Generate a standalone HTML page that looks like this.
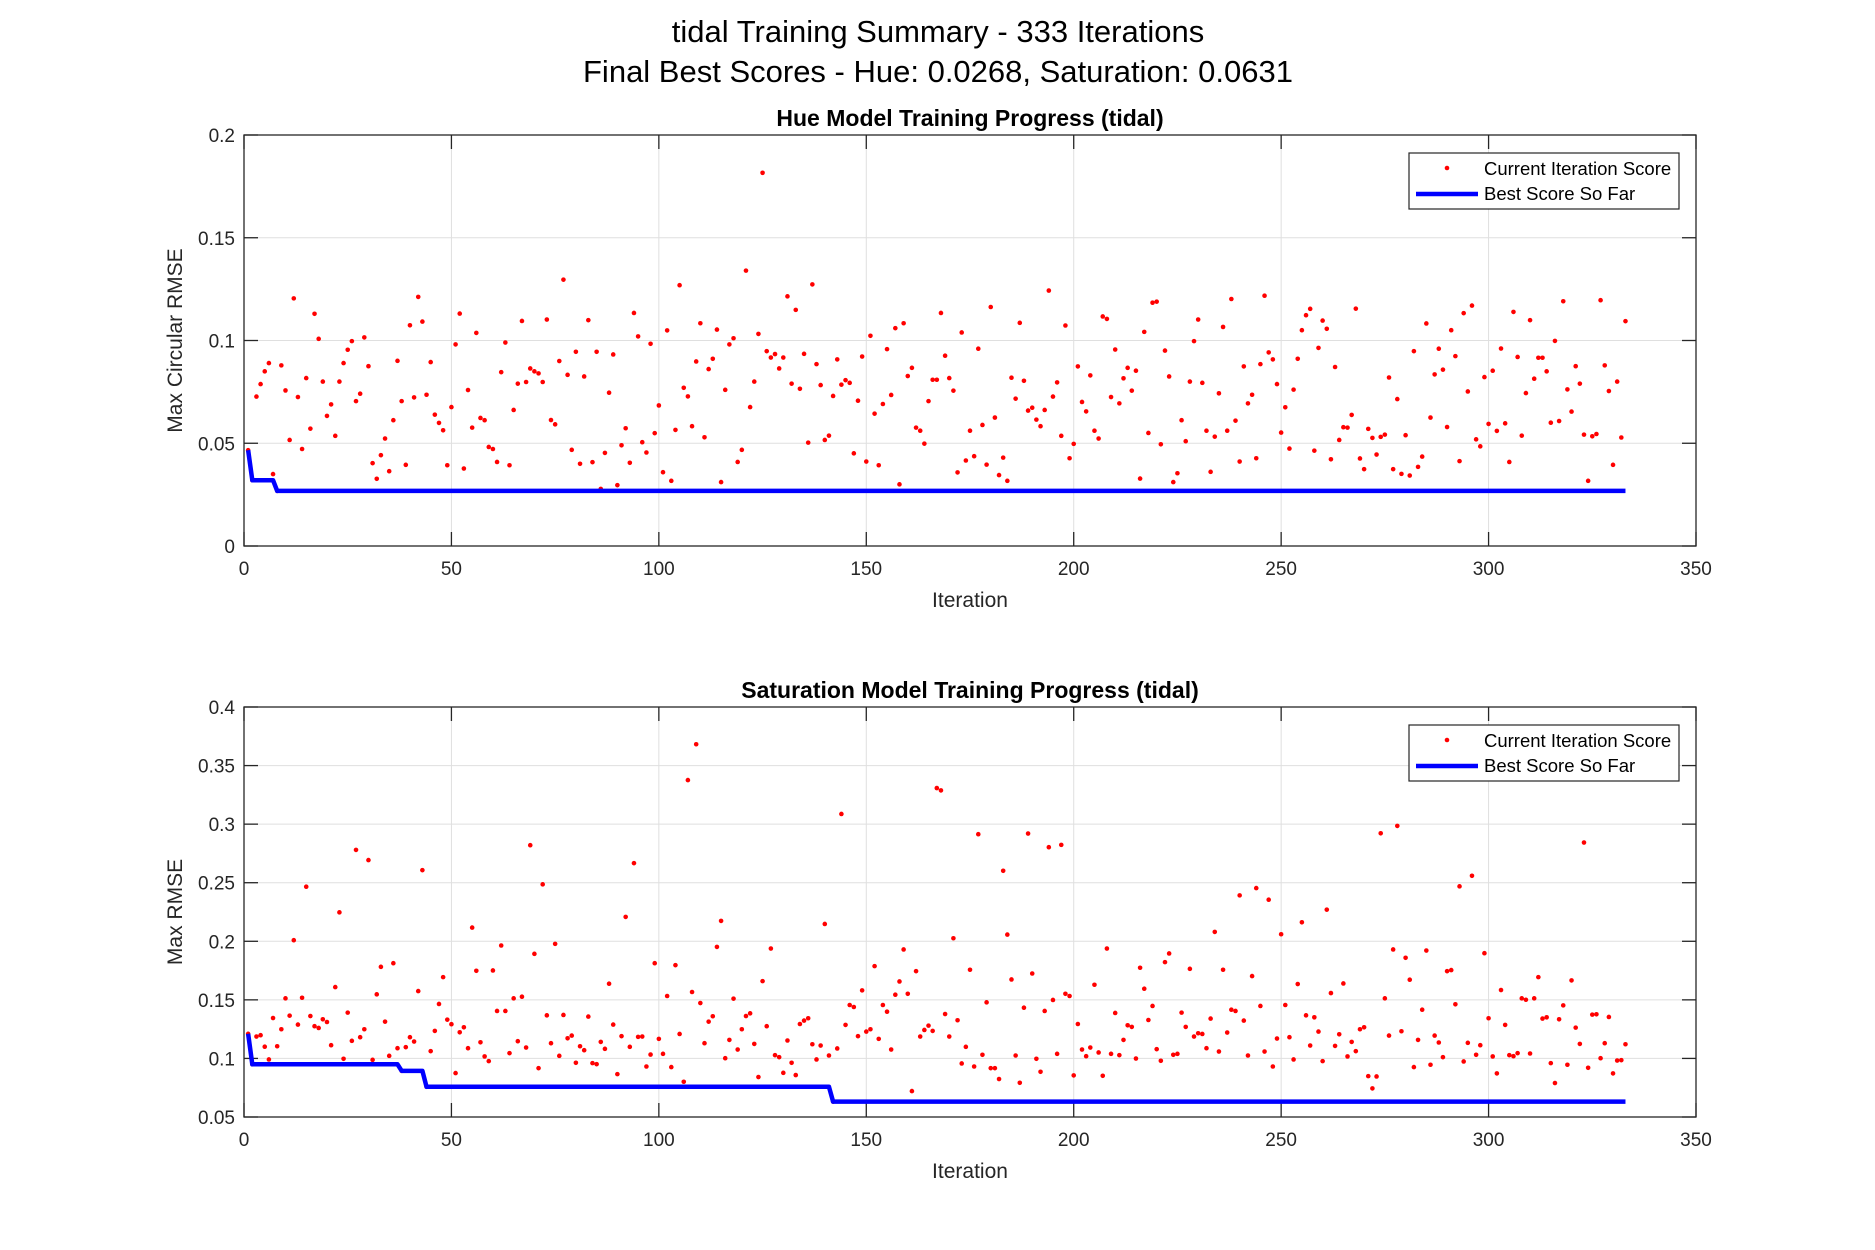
<!DOCTYPE html>
<html><head><meta charset="utf-8"><style>
html,body{margin:0;padding:0;background:#fff;}
svg{display:block;font-family:"Liberation Sans",Arial,sans-serif;}
</style></head><body>
<svg id="chart" width="1875" height="1250" viewBox="0 0 1875 1250" xmlns="http://www.w3.org/2000/svg">
<rect width="1875" height="1250" fill="#fff"/>
<text x="938" y="42" text-anchor="middle" font-size="31" fill="#000">tidal Training Summary - 333 Iterations</text>
<text x="938" y="82" text-anchor="middle" font-size="31" fill="#000">Final Best Scores - Hue: 0.0268, Saturation: 0.0631</text>
</svg>
<script>
const hueScores = [.0466,.032,.0727,.0788,.085,.089,.035,.0268,.0879,.0757,.0516,.1205,.0725,.0472,.0817,.0571,.113,.1008,.080,.0633,.0689,.0536,.080,.089,.0955,.0997,.0705,.0741,.1015,.0875,.0403,.0327,.0442,.0523,.0364,.0612,.0901,.0705,.0395,.1074,.0723,.1212,.1092,.0736,.0895,.0639,.0599,.0563,.0393,.0676,.0981,.1131,.0377,.0759,.0576,.1037,.0623,.0612,.0482,.0472,.0409,.0846,.099,.0393,.0662,.079,.1095,.0798,.0864,.085,.084,.0798,.1102,.0613,.0592,.090,.1296,.0833,.0468,.0945,.040,.0825,.1099,.0408,.0945,.0278,.0453,.0746,.0932,.0296,.049,.0573,.0405,.1134,.102,.0505,.0455,.0984,.0549,.0684,.0359,.1049,.0317,.0565,.1269,.077,.0728,.0583,.0898,.1084,.0529,.0861,.0911,.1053,.0311,.076,.0981,.1011,.0409,.0468,
.134,.0676,.080,.1032,.1816,.0948,.0917,.0934,.0864,.0917,.1215,.079,.1149,.0765,.0935,.0503,.1273,.0885,.0783,.0516,.0537,.073,.0908,.0785,.0807,.0794,.0451,.0707,.0922,.0411,.1023,.0644,.0393,.0691,.0958,.0735,.106,.030,.1084,.0827,.0867,.0576,.0561,.0498,.0705,.0809,.0809,.1134,.0926,.0817,.0756,.0358,.1039,.0416,.0561,.0437,.096,.0589,.0396,.1163,.0625,.0345,.043,.0317,.0819,.0717,.1086,.0804,.0659,.0673,.0615,.0583,.0662,.1243,.0727,.0796,.0536,.1073,.0427,.0497,.0874,.0701,.0655,.083,.0561,.0523,.1117,.1105,.0725,.0956,.0694,.0816,.0867,.0756,.0853,.0328,.1042,.055,.1184,.1189,.0495,.0951,.0825,.0311,.0354,.0612,.051,.080,.0997,.1102,.0794,.0561,.0361,.0532,.0743,.1066,.0561,.1202,.061,.0411,
.0874,.0694,.0736,.0427,.0885,.1218,.0942,.0908,.0788,.0552,.0675,.0474,.0761,.0911,.105,.1123,.1154,.0464,.0964,.1097,.1057,.0422,.0871,.0516,.0578,.0576,.0638,.1155,.0426,.0374,.057,.0526,.0445,.0531,.0542,.082,.0374,.0715,.0351,.0539,.0343,.0948,.0385,.0435,.1083,.0625,.0835,.096,.0858,.0579,.105,.0924,.0413,.1133,.0752,.117,.0519,.0485,.0822,.0594,.0853,.056,.0961,.0597,.0409,.1139,.092,.0537,.0744,.1099,.0814,.0916,.0916,.085,.06,.0998,.0608,.1191,.0762,.0654,.0875,.079,.0542,.0317,.0534,.0545,.1196,.0879,.0754,.0395,.080,.0528,.1094];
const satScores = [.121,.095,.1187,.1198,.110,.0991,.1345,.1104,.1249,.1513,.1365,.2009,.1289,.1518,.2466,.1362,.1275,.126,.1334,.1311,.1113,.1609,.2247,.0997,.1391,.115,.278,.1181,.1249,.2693,.0988,.1547,.1782,.1314,.1022,.1813,.1087,.0894,.1096,.1181,.1144,.1575,.2607,.0758,.1062,.1235,.1465,.1694,.1331,.1292,.0875,.1223,.1266,.1087,.2117,.1748,.1138,.1017,.0977,.1751,.1405,.1964,.1405,.1045,.1513,.1147,.1527,.1093,.282,.1893,.0917,.2486,.1368,.113,.1978,.1022,.1371,.1172,.1195,.0963,.1104,.107,.1357,.096,.0951,.1141,.1082,.1638,.1289,.0866,.119,.2208,.1099,.2667,.1184,.1187,.0931,.1033,.1813,.1167,.1039,.1533,.0926,.1796,.1209,.0801,.3376,.1567,.3682,.1473,.113,.1314,.136,.1952,.2174,.1002,.1158,.151,.1076,.1249,
.1362,.1385,.1124,.0841,.166,.1275,.1938,.1028,.1011,.0877,.1153,.0963,.0858,.1294,.1323,.1343,.1121,.0991,.111,.2148,.1025,.0631,.1085,.3087,.1286,.1456,.1439,.119,.1581,.1229,.1249,.1788,.1167,.1456,.1399,.1076,.1544,.1657,.193,.1552,.0721,.1745,.1187,.1243,.128,.1235,.3308,.3288,.1379,.1187,.2026,.1326,.0957,.1099,.1757,.0931,.2914,.1031,.1479,.0917,.0917,.0824,.2602,.2057,.1674,.1025,.0792,.1433,.292,.1725,.0997,.0886,.1405,.2803,.1499,.1039,.2823,.1552,.1533,.0855,.1294,.1076,.1019,.1093,.1629,.1051,.0852,.1938,.1039,.1388,.1028,.1158,.1283,.1269,.0999,.1774,.1595,.1328,.1448,.1079,.098,.1822,.1896,.1031,.1039,.1391,.1269,.1765,.1187,.1215,.1209,.1087,.134,.208,.1059,.1757,.1221,.1416,.1405,.2392,
.1323,.1025,.1703,.2454,.1448,.1059,.2355,.0931,.117,.206,.1456,.1181,.0991,.1635,.2162,.1368,.111,.1351,.1229,.0977,.227,.1558,.1107,.1206,.164,.1017,.1141,.1062,.1249,.1266,.0849,.0744,.0846,.2922,.1513,.1195,.193,.2985,.1232,.1859,.1672,.0926,.1158,.1416,.1921,.0946,.1195,.1136,.1011,.1745,.1754,.1462,.2469,.0974,.1133,.2559,.1031,.1113,.1898,.1343,.1017,.0872,.1584,.1286,.1028,.1019,.1045,.1513,.1501,.1042,.1513,.1694,.134,.1351,.096,.079,.1334,.1453,.0946,.1666,.1263,.1124,.2843,.092,.1374,.1377,.1002,.113,.1354,.0872,.0982,.0985,.1121];
const xTicks = [0,50,100,150,200,250,300,350];
const hueYTicks = [0,0.05,0.1,0.15,0.2];
const hueYTickLabels = ["0","0.05","0.1","0.15","0.2"];
const satYTicks = [0.05,0.1,0.15,0.2,0.25,0.3,0.35,0.4];
const satYTickLabels = ["0.05","0.1","0.15","0.2","0.25","0.3","0.35","0.4"];

const NS = "http://www.w3.org/2000/svg";
const svg = document.getElementById('chart');
function mk(tag, attrs, parent){
  const e = document.createElementNS(NS, tag);
  for (const k in attrs) e.setAttribute(k, attrs[k]);
  (parent||svg).appendChild(e);
  return e;
}
function bestSoFar(arr){
  const out=[]; let m=Infinity;
  for (const v of arr){ m=Math.min(m,v); out.push(m); }
  return out;
}
function drawPanel(cfg){
  const L=244, R=1696, T=cfg.top, B=cfg.bottom;
  const xS = v => L + (v-0)/(350-0)*(R-L);
  const yS = v => B - (v-cfg.ymin)/(cfg.ymax-cfg.ymin)*(B-T);
  const g = mk('g', {});
  
  
  mk('rect',{x:L,y:T,width:R-L,height:B-T,fill:'#fff'},g);
  xTicks.forEach(t=>{
    const l=mk('line',{x1:xS(t),x2:xS(t),y1:T,y2:B,stroke:'#dfdfdf','stroke-width':1},g);
    
    
  });
  cfg.yTicks.forEach(t=>{
    const l=mk('line',{x1:L,x2:R,y1:yS(t),y2:yS(t),stroke:'#dfdfdf','stroke-width':1},g);
    
    
  });
  xTicks.forEach(t=>{
    mk('line',{x1:xS(t),x2:xS(t),y1:B,y2:B-14,stroke:'#262626','stroke-width':1.3},g);
    mk('line',{x1:xS(t),x2:xS(t),y1:T,y2:T+14,stroke:'#262626','stroke-width':1.3},g);
    const tx=mk('text',{x:xS(t),y:B+29,'text-anchor':'middle','font-size':19,fill:'#262626'},g);
    tx.textContent=t;
    
    
  });
  cfg.yTicks.forEach((t,i)=>{
    mk('line',{x1:L,x2:L+14,y1:yS(t),y2:yS(t),stroke:'#262626','stroke-width':1.3},g);
    mk('line',{x1:R,x2:R-14,y1:yS(t),y2:yS(t),stroke:'#262626','stroke-width':1.3},g);
    const tx=mk('text',{x:235,y:yS(t)+7,'text-anchor':'end','font-size':19,fill:'#262626'},g);
    tx.textContent=cfg.yLabels[i];
    
    
  });
  cfg.data.forEach((v,i)=>{
    const c=mk('circle',{cx:xS(i+1),cy:yS(v),r:2.3,fill:'#ff0000'},g);
    
    
  });
  const best=bestSoFar(cfg.data);
  const p=mk('polyline',{points:best.map((v,i)=>xS(i+1)+','+yS(v)).join(' '),fill:'none',stroke:'#0000ff','stroke-width':4.5,'stroke-linejoin':'round'},g);
  
  
  mk('rect',{x:L,y:T,width:R-L,height:B-T,fill:'none',stroke:'#262626','stroke-width':1.3},g);
  const tt=mk('text',{x:(L+R)/2,y:T-9,'text-anchor':'middle','font-size':23,'font-weight':'bold',fill:'#000'},g);
  tt.textContent=cfg.title;
  
  
  const xl=mk('text',{x:(L+R)/2,y:B+61,'text-anchor':'middle','font-size':21,fill:'#262626'},g);
  xl.textContent='Iteration';
  
  
  const cy=(T+B)/2;
  const yl=mk('text',{x:182,y:cy,'text-anchor':'middle','font-size':21,fill:'#262626',transform:'rotate(-90 182 '+cy+')'},g);
  yl.textContent=cfg.yTitle;
  
  
  const lg=mk('g',{},g);
  
  
  const ly=T+18;
  mk('rect',{x:1409,y:ly,width:270,height:56,fill:'#fff',stroke:'#262626','stroke-width':1.2},lg);
  mk('circle',{cx:1447,cy:ly+15,r:2.3,fill:'#ff0000'},lg);
  const t1=mk('text',{x:1484,y:ly+22,'font-size':18.5,fill:'#000'},lg);
  t1.textContent='Current Iteration Score';
  
  
  mk('line',{x1:1416,x2:1478,y1:ly+41,y2:ly+41,stroke:'#0000ff','stroke-width':4.5},lg);
  const t2=mk('text',{x:1484,y:ly+47,'font-size':18.5,fill:'#000'},lg);
  t2.textContent='Best Score So Far';
  
  
}
drawPanel({name:'hue-panel',top:135,bottom:546,ymin:0,ymax:0.2,yTicks:hueYTicks,yLabels:hueYTickLabels,data:hueScores,title:'Hue Model Training Progress (tidal)',yTitle:'Max Circular RMSE'});
drawPanel({name:'saturation-panel',top:707,bottom:1117,ymin:0.05,ymax:0.4,yTicks:satYTicks,yLabels:satYTickLabels,data:satScores,title:'Saturation Model Training Progress (tidal)',yTitle:'Max RMSE'});
</script>
</body></html>
